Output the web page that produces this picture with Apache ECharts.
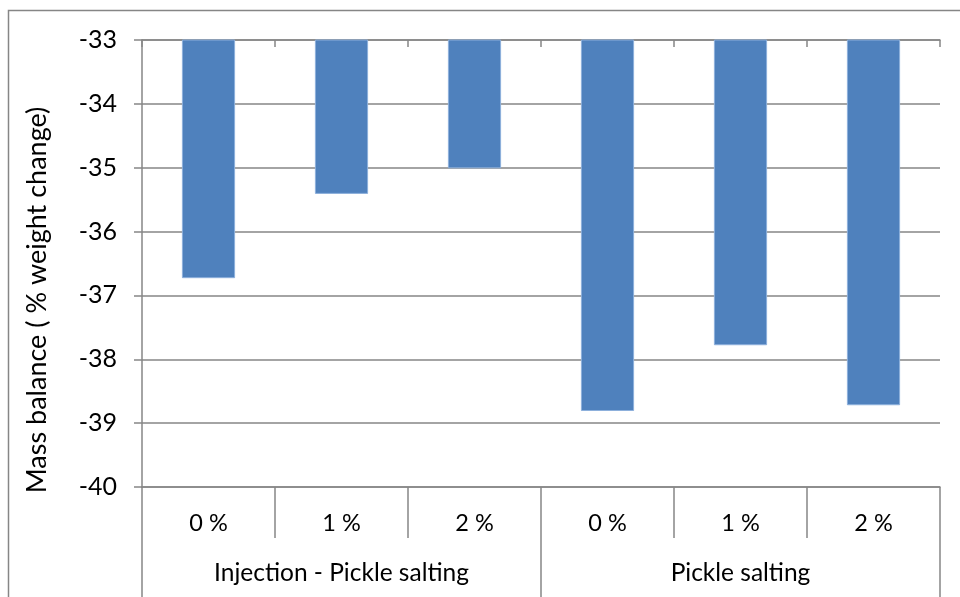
<!DOCTYPE html>
<html>
<head>
<meta charset="utf-8">
<script src="https://cdn.jsdelivr.net/npm/echarts@6/dist/echarts.min.js"></script>
<style>
    html, body { margin: 0; padding: 0; background: #fff; }
    #chart { width: 960px; height: 597px; }
</style>
</head>
<body>
<div id="chart"></div>
<script>
    // 数据
    var groups = ['Injection - Pickle salting', 'Pickle salting'];
    var levels = ['0 %', '1 %', '2 %', '0 %', '1 %', '2 %'];
    var massBalance = [-36.73, -35.41, -35.01, -38.81, -37.78, -38.72];
    var yTicks = [-40, -39, -38, -37, -36, -35, -34, -33];
    var yTitle = 'Mass balance ( % weight change)';

    var lineColor = '#868686';
    var font = 'Lato';

    var chart = echarts.init(document.getElementById('chart'));
    chart.setOption({
        animation: false,
        textStyle: { fontFamily: font },
        graphic: [
            {
                type: 'rect',
                shape: { x: 8.5, y: 10.5, width: 980, height: 620 },
                style: { fill: 'none', stroke: lineColor, lineWidth: 1.5 },
                z: 0
            },
            {
                // y轴标题
                type: 'text',
                x: 37,
                y: 300,
                rotation: Math.PI / 2,
                style: {
                    text: yTitle,
                    fill: '#000',
                    font: '27px Lato',
                    textAlign: 'center',
                    textVerticalAlign: 'middle'
                }
            }
        ],
        grid: { left: 142, right: 20, top: 40, bottom: 110 },
        xAxis: [
            {
                // 顶部轴线和刻度
                type: 'category',
                position: 'top',
                data: levels,
                axisLine: { show: true, lineStyle: { color: lineColor, width: 1.5 } },
                axisTick: { show: true, inside: true, length: 7, lineStyle: { color: lineColor, width: 1.5 } },
                axisLabel: { show: false }
            },
            {
                type: 'category',
                position: 'bottom',
                data: levels,
                axisLine: { show: true, lineStyle: { color: lineColor, width: 1.5 } },
                axisTick: { show: true, length: 51, lineStyle: { color: lineColor, width: 1.5 } },
                axisLabel: { color: '#000', fontSize: 23.5, margin: 24, fontFamily: font }
            },
            {
                type: 'category',
                position: 'bottom',
                data: groups,
                axisLine: { show: false },
                axisTick: { show: true, length: 115, lineStyle: { color: lineColor, width: 1.5 } },
                axisLabel: { color: '#000', fontSize: 24.5, margin: 74, fontFamily: font }
            }
        ],
        yAxis: {
            type: 'value',
            min: yTicks[0],
            max: yTicks[yTicks.length - 1],
            interval: 1,
            axisLine: { show: true, lineStyle: { color: lineColor, width: 1.5 } },
            axisTick: { show: true, length: 8, lineStyle: { color: lineColor, width: 1.5 } },
            axisLabel: { color: '#000', fontSize: 25, margin: 25, fontFamily: font },
            splitLine: { show: true, lineStyle: { color: lineColor, width: 1.5 } }
        },
        series: [
            {
                type: 'bar',
                xAxisIndex: 1,
                data: massBalance,
                barWidth: '40%',
                clip: true,
                itemStyle: { color: '#4F81BD', borderColor: '#8DB0DC', borderWidth: 1 }
            }
        ]
    });
</script>
</body>
</html>
